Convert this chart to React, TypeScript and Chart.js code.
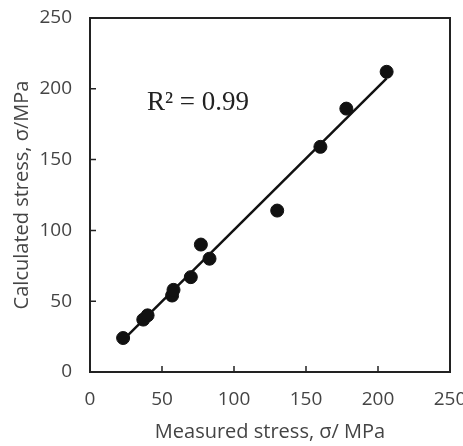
import React, { useEffect, useRef } from "react";
import { Chart, registerables } from "chart.js";

Chart.register(...registerables);

const measured = [23, 37, 40, 57, 58, 70, 77, 83, 130, 160, 178, 206];
const calculated = [24, 37, 40, 54, 58, 67, 90, 80, 114, 159, 186, 212];
const fitX = [25, 206];
const fitY = [24.6, 207.3];
const xTicks = [0, 50, 100, 150, 200, 250];
const yTicks = [0, 50, 100, 150, 200, 250];
const annotationText = "R² = 0.99";
const annotationPos = [39.5, 185];

const TICK_FONT = { family: "'Open Sans', sans-serif", size: 19 };
const TITLE_FONT = { family: "'Open Sans', sans-serif", size: 20 };

const framePlugin = {
  id: "frameTicks",
  afterDatasetsDraw(chart: any) {
    const { ctx, chartArea: a, scales } = chart;
    ctx.save();
    ctx.strokeStyle = "#222";
    ctx.lineWidth = 2;
    ctx.strokeRect(a.left, a.top, a.right - a.left, a.bottom - a.top);
    ctx.lineWidth = 1.5;
    ctx.beginPath();
    for (const v of xTicks) {
      const x = scales.x.getPixelForValue(v);
      ctx.moveTo(x, a.bottom);
      ctx.lineTo(x, a.bottom - 6);
    }
    for (const v of yTicks) {
      const y = scales.y.getPixelForValue(v);
      ctx.moveTo(a.left, y);
      ctx.lineTo(a.left + 6, y);
    }
    ctx.stroke();
    ctx.fillStyle = "#222";
    ctx.font = "27px 'Liberation Serif', serif";
    ctx.textBaseline = "alphabetic";
    ctx.textAlign = "left";
    ctx.fillText(
      annotationText,
      scales.x.getPixelForValue(annotationPos[0]),
      scales.y.getPixelForValue(annotationPos[1])
    );
    ctx.restore();
  },
};

export default function App() {
  const ref = useRef<HTMLCanvasElement>(null);
  useEffect(() => {
    if (!ref.current) return;
    const chart = new Chart(ref.current, {
      type: "scatter",
      data: {
        datasets: [
          {
            type: "line",
            data: fitX.map((x, i) => ({ x, y: fitY[i] })),
            borderColor: "#111",
            borderWidth: 2.5,
            pointRadius: 0,
            fill: false,
          } as any,
          {
            type: "scatter",
            data: measured.map((x, i) => ({ x, y: calculated[i] })),
            backgroundColor: "#111",
            borderColor: "#111",
            pointRadius: 6.5,
            pointHoverRadius: 6.5,
          },
        ],
      },
      options: {
        animation: false,
        responsive: false,
        maintainAspectRatio: false,
        layout: { padding: { top: 18, right: 13, bottom: 0, left: 0 } },
        plugins: { legend: { display: false }, tooltip: { enabled: false } },
        scales: {
          x: {
            type: "linear",
            min: 0,
            max: 250,
            ticks: { stepSize: 50, color: "#444", font: TICK_FONT, padding: 16 },
            grid: { display: false, drawTicks: false },
            border: { display: false },
            title: {
              display: true,
              text: "Measured stress, σ/ MPa",
              color: "#444",
              font: TITLE_FONT,
              padding: { top: 0, bottom: 2 },
            },
            afterFit(scale: any) {
              scale.height = 74;
              scale.paddingLeft = 0;
              scale.paddingRight = 0;
            },
          },
          y: {
            type: "linear",
            min: 0,
            max: 250,
            ticks: { stepSize: 50, color: "#444", font: TICK_FONT, padding: 18 },
            grid: { display: false, drawTicks: false },
            border: { display: false },
            title: {
              display: true,
              text: "Calculated stress, σ/MPa",
              color: "#444",
              font: TITLE_FONT,
              padding: { top: 10, bottom: 0 },
            },
            afterFit(scale: any) {
              scale.width = 90;
              scale.paddingTop = 0;
              scale.paddingBottom = 0;
            },
          },
        },
      },
      plugins: [framePlugin],
    });
    return () => chart.destroy();
  }, []);
  return (
    <div style={{ position: "absolute", left: 0, top: 0, width: 463, height: 446, overflow: "hidden", background: "#fff" }}>
      <canvas ref={ref} width={463} height={446} style={{ display: "block" }} />
    </div>
  );
}
